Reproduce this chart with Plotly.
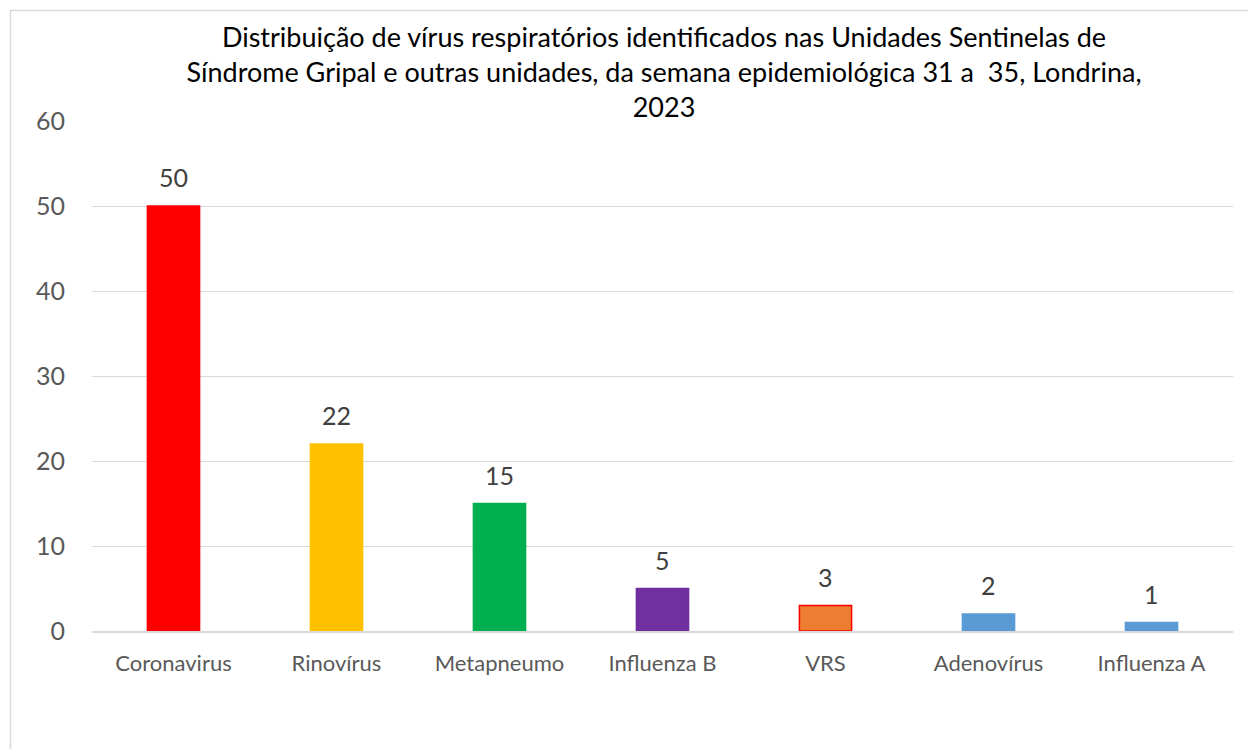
import plotly.graph_objects as go

categories = ["Coronavirus", "Rinovírus", "Metapneumo", "Influenza B", "VRS", "Adenovírus", "Influenza A"]
values = [50, 22, 15, 5, 3, 2, 1]
colors = ["#FF0000", "#FFC000", "#00B050", "#7030A0", "#ED7D31", "#5B9BD5", "#5B9BD5"]
outline_colors = ["#FF0000", "#FFC000", "#00B050", "#7030A0", "#FF0000", "#5B9BD5", "#5B9BD5"]
y_ticks = [0, 10, 20, 30, 40, 50, 60]

title_text = ("Distribuição de vírus respiratórios identificados nas Unidades Sentinelas de<br>"
              "Síndrome Gripal e outras unidades, da semana epidemiológica 31 a  35, Londrina,<br>"
              "2023")

W, H = 1248, 749
L, R, T, B = 92, 15, 121, 118
FONT = "Lato, Open Sans, sans-serif"

fig = go.Figure()
fig.add_trace(go.Bar(
    x=categories, y=values,
    marker=dict(color=colors, line=dict(color=outline_colors, width=1.5)),
    width=0.32,
    hoverinfo="x+y",
))

for c, v in zip(categories, values):
    fig.add_annotation(x=c, y=v, text=str(v), showarrow=False,
                       yanchor="bottom", yshift=12,
                       font=dict(family=FONT, size=25, color="#404040"))

pw = W - L - R
ph = H - T - B
def px(x):
    return (x - L) / pw
def py(y):
    return (H - B - y) / ph

fig.add_shape(type="rect", xref="paper", yref="paper",
              x0=px(10.5), x1=px(1260), y0=py(10.5), y1=py(760),
              line=dict(color="#D9D9D9", width=1.5), fillcolor="rgba(0,0,0,0)", layer="below")

fig.update_layout(
    width=W, height=H,
    margin=dict(l=L, r=R, t=T, b=B),
    paper_bgcolor="white", plot_bgcolor="white",
    showlegend=False,
    title=dict(text=title_text, x=664 / W, xanchor="center", y=1 - 47 / H, yanchor="top",
               font=dict(family=FONT, size=27, color="#000000")),
    xaxis=dict(showgrid=False, showline=True, linecolor="#D9D9D9", linewidth=1.5,
               ticks="", tickfont=dict(family=FONT, size=22, color="#595959"),
               ticklabelstandoff=12),
    yaxis=dict(range=[0, 60], tickvals=y_ticks, showgrid=True, gridcolor="#D9D9D9", gridwidth=1,
               zeroline=False, showline=False, ticks="",
               tickfont=dict(family=FONT, size=25, color="#595959"),
               ticklabelstandoff=26),
)

fig.write_html("out.html", config={"displayModeBar": False},
               post_script="document.body.style.margin='0';document.body.style.overflow='hidden';")
